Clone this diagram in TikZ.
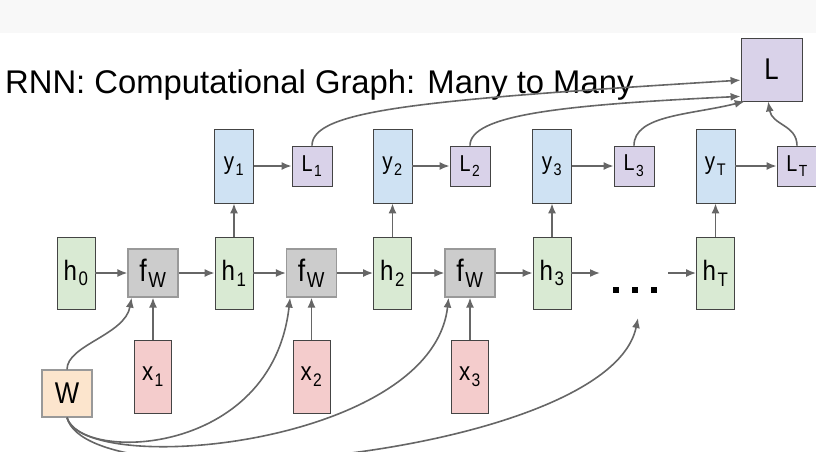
\documentclass[tikz,border=0pt]{standalone}
\usepackage{fontspec}
\setmainfont{Liberation Sans}
\newfontfamily\boxfont[FakeStretch=0.86]{Liberation Sans}
\usetikzlibrary{arrows.meta}
\definecolor{hgreen}{HTML}{D9EAD3}
\definecolor{yblue}{HTML}{CFE2F3}
\definecolor{lpurple}{HTML}{D9D2E9}
\definecolor{xred}{HTML}{F4CCCC}
\definecolor{worange}{HTML}{FCE5CD}
\definecolor{fgray}{HTML}{CCCCCC}
\definecolor{edgegray}{HTML}{666666}
\definecolor{bordergray}{HTML}{444444}
\definecolor{softgray}{HTML}{999999}
\definecolor{topband}{HTML}{F8F8F8}
\newcommand{\sbx}[1]{\kern1.5pt\textsubscript{\raisebox{-2pt}{#1}}}

\begin{document}
\begin{tikzpicture}[x=1pt,y=-1pt,
    box/.style={draw=bordergray, line width=0.8pt, inner sep=0pt,
      font=\boxfont\fontsize{24}{24}\selectfont},
    hbox/.style={box, fill=hgreen, minimum width=38pt, minimum height=72pt,
      font=\boxfont\fontsize{28}{28}\selectfont},
    ybox/.style={box, fill=yblue, minimum width=39pt, minimum height=74pt},
    lbox/.style={box, fill=lpurple, minimum width=40pt, minimum height=40pt,
      font=\boxfont\fontsize{23}{23}\selectfont},
    xbox/.style={box, fill=xred, minimum width=37pt, minimum height=73pt,
      font=\boxfont\fontsize{26}{26}\selectfont},
    fbox/.style={box, draw=softgray, line width=1.2pt, fill=fgray,
      minimum width=50pt, minimum height=48pt, font=\boxfont\fontsize{31}{31}\selectfont},
    arr/.style={draw=edgegray, line width=1.6pt, -{Latex[length=10pt,width=8pt]}}]

    % Fundo e titulo
    \fill[topband] (0,0) rectangle (816,33);
    \useasboundingbox (0,0) rectangle (816,451);
    \node[anchor=base west, inner sep=0pt, font=\fontsize{32.8}{34}\selectfont]
        (title) at (5,93) {RNN: Computational Graph: Many to Many};

    % Perda total
    \node[lbox, minimum width=61pt, minimum height=63pt,
        font=\boxfont\fontsize{30}{30}\selectfont] (L) at (771.5,69.5) {L};

    % Estados ocultos
    \node[hbox] (h0) at (76,273) {h\sbx{0}};
    \node[hbox] (h1) at (234,273) {h\sbx{1}};
    \node[hbox] (h2) at (392.5,273) {h\sbx{2}};
    \node[hbox] (h3) at (552,273) {h\sbx{3}};
    \node[hbox] (hT) at (715.5,273) {h\sbx{T}};

    % Celulas f_W
    \node[fbox] (f1) at (153,273) {f\sbx{W}};
    \node[fbox] (f2) at (311.5,273) {f\sbx{W}};
    \node[fbox] (f3) at (470,273) {f\sbx{W}};

    % Saidas
    \node[ybox] (y1) at (234,166) {y\sbx{1}};
    \node[ybox] (y2) at (392.5,166) {y\sbx{2}};
    \node[ybox] (y3) at (552,166) {y\sbx{3}};
    \node[ybox] (yT) at (715.5,166) {y\sbx{T}};

    % Perdas parciais
    \node[lbox] (L1) at (312,166) {L\sbx{1}};
    \node[lbox] (L2) at (470,166) {L\sbx{2}};
    \node[lbox] (L3) at (634,166) {L\sbx{3}};
    \node[lbox] (LT) at (797,166) {L\sbx{T}};

    % Entradas
    \node[xbox] (x1) at (153,376.5) {x\sbx{1}};
    \node[xbox] (x2) at (311.5,376.5) {x\sbx{2}};
    \node[xbox] (x3) at (470,376.5) {x\sbx{3}};

    % Pesos
    \node[box, draw=softgray, line width=1.2pt, fill=worange, minimum width=50pt,
        minimum height=47pt, font=\boxfont\fontsize{30}{30}\selectfont] (W) at (67,393.5) {W};

    % Reticencias
    \node[inner sep=0pt] (dots) at (634.5,290)
        {\rule{6pt}{6pt}\hspace{13pt}\rule{6pt}{6pt}\hspace{13pt}\rule{6pt}{6pt}};
    \coordinate (din) at (600,273);
    \coordinate (dout) at (668,273);
    \coordinate (dup) at (638,318);

    % Setas horizontais
    \draw[arr] (h0) -- (f1);
    \draw[arr] (f1) -- (h1);
    \draw[arr] (h1) -- (f2);
    \draw[arr] (f2) -- (h2);
    \draw[arr] (h2) -- (f3);
    \draw[arr] (f3) -- (h3);
    \draw[arr] (h3) -- (din);
    \draw[arr] (dout) -- (hT);

    % Setas verticais
    \draw[arr] (h1) -- (y1);
    \draw[arr] (h2) -- (y2);
    \draw[arr] (h3) -- (y3);
    \draw[arr] (hT) -- (yT);
    \draw[arr] (x1) -- (f1);
    \draw[arr] (x2) -- (f2);
    \draw[arr] (x3) -- (f3);
    \draw[arr] (y1) -- (L1);
    \draw[arr] (y2) -- (L2);
    \draw[arr] (y3) -- (L3);
    \draw[arr] (yT) -- (LT);

    % Perdas ate L
    \draw[arr] (L1.north) .. controls (312,110) and (420,100) .. (L.199);
    \draw[arr] (L2.north) .. controls (470,115) and (560,105) .. (L.221);
    \draw[arr] (L3.north) .. controls (634,115) and (690,115) .. (L.230);
    \draw[arr] (LT.north) .. controls (797,125) and (772,125) .. (L.264);

    % W compartilhado
    \draw[arr] (W.north) .. controls (67,345) and (125,335) .. (f1.229);
    \draw[arr] (W.south) .. controls (80,462) and (272,458) .. (f2.229);
    \draw[arr] (W.south) .. controls (85,478) and (432,446) .. (f3.229);
    \draw[arr] (W.south) .. controls (90,505) and (610,455) .. (dup);
\end{tikzpicture}
\end{document}
